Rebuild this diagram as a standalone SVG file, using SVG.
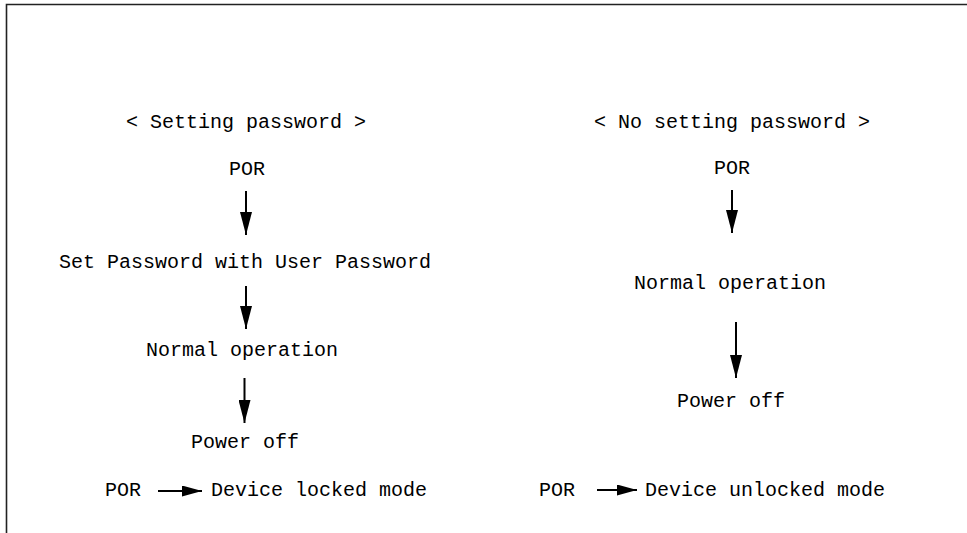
<svg xmlns="http://www.w3.org/2000/svg" width="967" height="533" viewBox="0 0 967 533">
<style>
text{font-family:"Liberation Mono","Courier New",monospace;font-size:20px;fill:#000}
.ln{stroke:#000;stroke-width:2;fill:none}
.frame{stroke:#222;stroke-width:1.6;fill:none}
</style>
<defs>
<marker id="ah" markerUnits="userSpaceOnUse" markerWidth="24" markerHeight="12" refX="23" refY="6" orient="auto">
<path d="M0,0 L23,6 L0,12 Z" fill="#000"/>
</marker>
<marker id="ahh" markerUnits="userSpaceOnUse" markerWidth="21" markerHeight="11" refX="20" refY="5.5" orient="auto">
<path d="M0,0 L20,5.5 L0,11 Z" fill="#000"/>
</marker>
</defs>
<rect width="967" height="533" fill="#fff"/>
<path class="frame" d="M6.5,533 V4.5 H967"/>
<g id="title-left"><text x="126" y="128">&lt; Setting password &gt;</text></g>
<g id="por-left"><text x="229" y="175">POR</text></g>
<g id="setpw-left"><text x="59" y="268">Set Password with User Password</text></g>
<g id="normal-left"><text x="146" y="356">Normal operation</text></g>
<g id="poweroff-left"><text x="191" y="448">Power off</text></g>
<g id="result-left"><text x="105" y="496">POR</text><text x="211" y="496">Device locked mode</text></g>
<g id="title-right"><text x="594" y="128">&lt; No setting password &gt;</text></g>
<g id="por-right"><text x="714" y="174">POR</text></g>
<g id="normal-right"><text x="634" y="289">Normal operation</text></g>
<g id="poweroff-right"><text x="677" y="407">Power off</text></g>
<g id="result-right"><text x="539" y="496">POR</text><text x="645" y="496">Device unlocked mode</text></g>
<g id="connectors">
<line class="ln" x1="246" y1="191" x2="246" y2="235" marker-end="url(#ah)"/>
<line class="ln" x1="246" y1="286" x2="246" y2="329" marker-end="url(#ah)"/>
<line class="ln" x1="244.5" y1="378" x2="244.5" y2="423" marker-end="url(#ah)"/>
<line class="ln" x1="732" y1="190" x2="732" y2="233" marker-end="url(#ah)"/>
<line class="ln" x1="736" y1="322" x2="736" y2="378" marker-end="url(#ah)"/>
<line class="ln" x1="158" y1="491" x2="202" y2="491" marker-end="url(#ahh)"/>
<line class="ln" x1="597" y1="490" x2="637" y2="490" marker-end="url(#ahh)"/>
</g>
</svg>
